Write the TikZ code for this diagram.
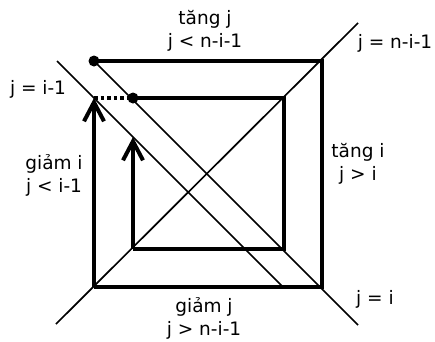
\documentclass[tikz,border=0pt]{standalone}
\usepackage{fontspec}
\setmainfont{DejaVu Sans}
\usetikzlibrary{arrows.meta}
\begin{document}
\begin{tikzpicture}[x=1pt,y=-1pt,
  thin line/.style={line width=1.7pt},
  thick line/.style={line width=4.5pt,line join=miter},
  barb/.style={-{Straight Barb[length=19pt,width=20pt,line width=4pt]}},
  dotmark/.style={circle,fill=black,inner sep=0pt,minimum size=11pt},
  lbl/.style={font=\fontsize{18.5}{23}\selectfont,align=center,inner sep=0pt}]
\useasboundingbox (0,0) rectangle (435,341);
% corners
\coordinate (O1) at (94,61);
\coordinate (O2) at (322,61);
\coordinate (O3) at (322,287);
\coordinate (O4) at (94,287);
\coordinate (A1) at (94,98);
\coordinate (I1) at (133,98);
\coordinate (I2) at (284,98);
\coordinate (I3) at (284,249);
\coordinate (I4) at (133,249);
\coordinate (A2) at (133,137);
% diagonal ends
\coordinate (D1s) at (56,324);
\coordinate (D1e) at (358,23);
\coordinate (D2e) at (358,325);
\coordinate (D3s) at (57,61);
\coordinate (D3e) at (283,287);
% thin diagonals
\draw[thin line] (D1s) -- (D1e);
\draw[thin line] (O1) -- (D2e);
\draw[thin line] (D3s) -- (D3e);
% thick paths
\draw[thick line] (O1) -- (O2) -- (O3) -- (O4);
\draw[thick line,barb] (O4) -- (A1);
\draw[thick line] (I1) -- (I2) -- (I3) -- (I4);
\draw[thick line,barb] (I4) -- (A2);
\draw[line width=4.5pt,dash pattern=on 3.5pt off 3pt] (A1) -- (I1);
% dots
\node[dotmark] (P1) at (O1) {};
\node[dotmark] (P2) at (I1) {};
% labels
\node[lbl] (t1) at (205,31) {tăng j\\j < n-i-1};
\node[lbl] (t2) at (395,43) {j = n-i-1};
\node[lbl] (t3) at (38,89) {j = i-1};
\node[lbl] (t4) at (54,175) {giảm i\\j < i-1};
\node[lbl] (t5) at (358,164) {tăng i\\j > i};
\node[lbl] (t6) at (204,318) {giảm j\\j > n-i-1};
\node[lbl] (t7) at (375,299) {j = i};
\end{tikzpicture}
\end{document}
